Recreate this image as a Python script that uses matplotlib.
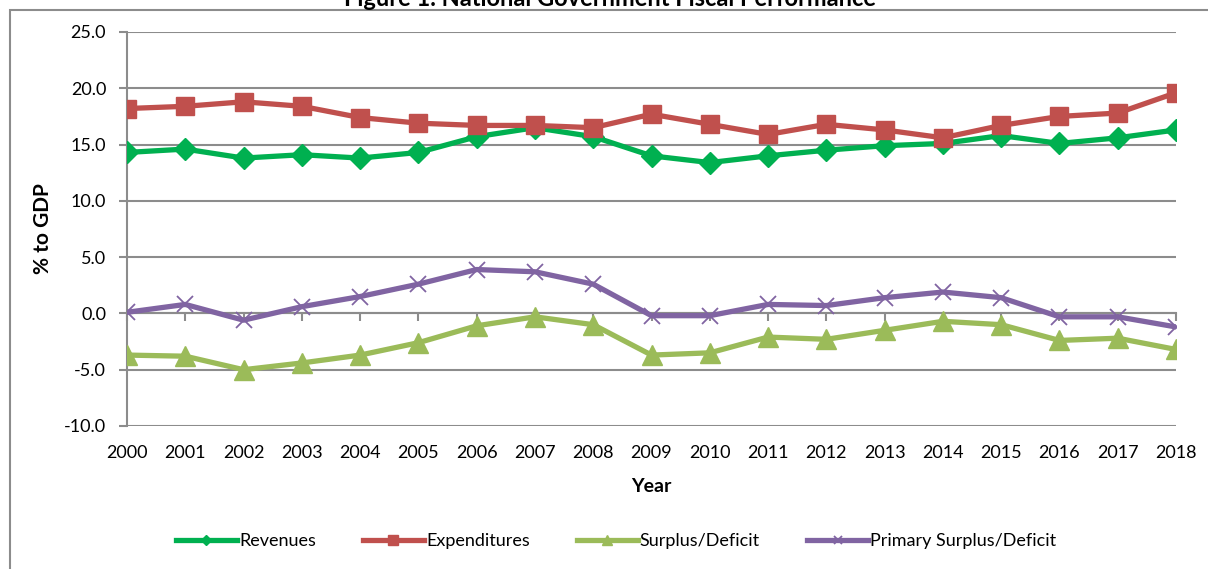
import matplotlib
matplotlib.use("Agg")
import matplotlib.pyplot as plt
from matplotlib.patches import Rectangle
from matplotlib.ticker import FormatStrFormatter

years = list(range(2000, 2019))
revenues = [14.3, 14.6, 13.8, 14.1, 13.8, 14.3, 15.7, 16.5, 15.7, 14.0, 13.4, 14.0, 14.5, 14.9, 15.1, 15.8, 15.1, 15.6, 16.3]
expenditures = [18.2, 18.4, 18.8, 18.4, 17.4, 16.9, 16.7, 16.7, 16.5, 17.7, 16.8, 15.9, 16.8, 16.3, 15.6, 16.7, 17.5, 17.8, 19.6]
surplus = [-3.7, -3.8, -5.0, -4.4, -3.7, -2.6, -1.1, -0.3, -1.0, -3.7, -3.5, -2.1, -2.3, -1.5, -0.7, -1.0, -2.4, -2.2, -3.2]
primary = [0.1, 0.8, -0.6, 0.6, 1.5, 2.6, 3.9, 3.7, 2.6, -0.2, -0.2, 0.8, 0.7, 1.4, 1.9, 1.4, -0.3, -0.3, -1.2]
yticks = [-10, -5, 0, 5, 10, 15, 20, 25]

plt.rcParams['font.family'] = ['Lato', 'DejaVu Sans']

W, H = 1208, 569
fig = plt.figure(figsize=(W / 100, H / 100), dpi=100)
ax = fig.add_axes([127 / W, 1 - 426 / H, (1176 - 127) / W, (426 - 32) / H])

grid_c = '#8c8c8c'
ax.plot(years, revenues, color='#00B050', lw=3.8, marker='D', ms=11, label='Revenues', zorder=3)
ax.plot(years, expenditures, color='#C0504D', lw=3.8, marker='s', ms=13, label='Expenditures', zorder=3)
ax.plot(years, surplus, color='#9BBB59', lw=3.8, marker='^', ms=14, label='Surplus/Deficit', zorder=3)
ax.plot(years, primary, color='#8064A2', lw=3.8, marker='x', ms=12, mew=1.3, label='Primary Surplus/Deficit', zorder=3)

ax.set_xlim(2000, 2018)
ax.set_ylim(-10, 25)
ax.set_yticks(yticks)
ax.yaxis.set_major_formatter(FormatStrFormatter('%.1f'))
ax.yaxis.grid(True, color=grid_c, lw=1.5)
ax.set_axisbelow(True)
for s in ['top', 'right']:
    ax.spines[s].set_visible(False)
ax.spines['left'].set_color(grid_c)
ax.spines['left'].set_linewidth(1.5)
ax.spines['bottom'].set_position(('data', 0))
ax.spines['bottom'].set_color(grid_c)
ax.spines['bottom'].set_linewidth(1.5)
ax.set_xticks(years)
ax.tick_params(axis='x', direction='out', length=6, width=1.5, color=grid_c, labelbottom=False)
ax.tick_params(axis='y', direction='out', length=6, width=1.5, color=grid_c, labelsize=13, pad=9)

sec = ax.secondary_xaxis('bottom')
sec.set_xticks(years)
sec.set_xticklabels([str(y) for y in years])
sec.tick_params(length=0, labelsize=13, pad=14)
sec.spines['bottom'].set_visible(False)
sec.set_xlabel('Year', fontsize=14, fontweight='bold', labelpad=12)

ax.set_ylabel('% to GDP', fontsize=15, fontweight='bold', labelpad=8)

leg = fig.legend(loc='center', bbox_to_anchor=(616 / W, 1 - 541 / H), ncol=4, frameon=False,
                 fontsize=13, handlelength=3.4, columnspacing=2.6, handletextpad=0.1, markerscale=0.5)

fig.patches.append(Rectangle((10 / W, -0.1), 1.2, 1.1 - 10 / H, transform=fig.transFigure,
                             fill=False, edgecolor='#8c8c8c', lw=1.5))
fig.text(0.505, 1 + 1 / H, 'Figure 1. National Government Fiscal Performance', ha='center', va='center',
         fontsize=17, fontweight='bold')

fig.savefig('out.png', dpi=100)
